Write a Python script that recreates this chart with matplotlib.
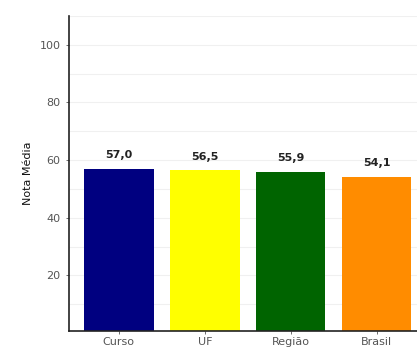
import matplotlib.pyplot as plt
from matplotlib.ticker import MultipleLocator

categorias = ['Curso', 'UF', 'Região', 'Brasil']
notas = [57.0, 56.5, 55.9, 54.1]
cores = ['#000080', '#FFFF00', '#006400', '#FF8C00']
yticks = [20, 40, 60, 80, 100]

fig = plt.figure(figsize=(4.17, 3.47), dpi=100)
ax = fig.add_axes([0.1655, 0.046, 0.8345, 0.908])

x = list(range(len(categorias)))
bars = ax.bar(x, notas, width=0.81, color=cores, zorder=2)

for b, v in zip(bars, notas):
    ax.text(b.get_x() + b.get_width() / 2, v + 3, f'{v:.1f}'.replace('.', ','),
            ha='center', va='bottom', fontsize=8, fontweight='bold', color='#222222')

ax.set_xlim(-0.58, 3.47)
ax.set_ylim(0.7, 110)
ax.set_yticks(yticks)
ax.yaxis.set_minor_locator(MultipleLocator(10))
ax.set_xticks(x)
ax.set_xticklabels(categorias)

ax.grid(axis='y', which='both', color='#f0f0f0', linewidth=0.8, zorder=0)
ax.set_axisbelow(True)

for s in ['top', 'right']:
    ax.spines[s].set_visible(False)
for s in ['left', 'bottom']:
    ax.spines[s].set_color('#222222')
    ax.spines[s].set_linewidth(1.2)

ax.tick_params(axis='both', which='major', labelsize=8, labelcolor='#555555',
               color='#555555', length=2.5, width=0.6)
ax.tick_params(axis='y', which='minor', length=0)
ax.tick_params(axis='x', pad=2)

ax.set_ylabel('Nota Média', fontsize=8, color='#111111', labelpad=5)

fig.savefig('out.png', dpi=100)
